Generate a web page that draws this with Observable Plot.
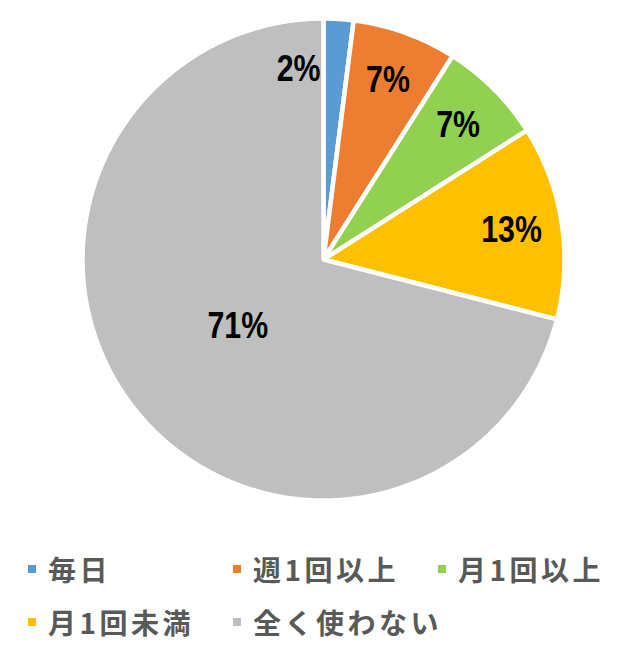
<!DOCTYPE html>
<html><head><meta charset="utf-8">
<script src="https://cdn.jsdelivr.net/npm/d3@7"></script>
<script src="https://cdn.jsdelivr.net/npm/@observablehq/plot@0.6"></script>
<style>
body{margin:0;background:#fff;overflow:hidden;}
#chart svg{display:block;}
.lg-swatches{box-sizing:content-box !important;width:620px !important;padding-left:28px !important;margin-top:12px !important;font-family:"Noto Sans CJK JP",sans-serif !important;font-size:28px !important;font-weight:bold !important;color:#595959 !important;letter-spacing:3.5px !important;}
.lg-swatch{width:205px !important;margin-right:0 !important;height:53px !important;white-space:nowrap !important;}
.lg-swatch > svg{margin-right:12px !important;}
</style></head><body><div id="chart"></div>
<script>
const categories = ["毎日","週1回以上","月1回以上","月1回未満","全く使わない"];
const values = [2,7,7,13,71];
const colors = ["#5B9BD5","#ED7D31","#92D050","#FFC000","#BFBFBF"];
const labels = values.map(v => v + "%");

const W = 639, H = 530, R = 241, cx = 323, cy = 259;
const total = d3.sum(values);
const pie = d3.pie().sort(null).value(d => d)(values);

const wedgePts = [];
pie.forEach((p, i) => {
  wedgePts.push({cat: categories[i], x: 0, y: 0});
  const n = Math.max(2, Math.ceil((p.endAngle - p.startAngle) / (Math.PI / 360)));
  for (let k = 0; k <= n; k++) {
    const a = p.startAngle + (p.endAngle - p.startAngle) * k / n;
    wedgePts.push({cat: categories[i], x: Math.sin(a), y: Math.cos(a)});
  }
});

const labelData = pie.map((p, i) => {
  const frac = values[i] / total;
  const mid = (p.startAngle + p.endAngle) / 2;
  if (frac < 0.05) return {label: labels[i], small: true, x: Math.sin(p.startAngle) * 0.79, y: Math.cos(p.startAngle) * 0.79};
  const r = frac > 0.5 ? 0.45 : 0.79;
  return {label: labels[i], small: false, x: Math.sin(mid) * r, y: Math.cos(mid) * r};
});

const labelFont = {fontSize: 37, fontWeight: "bold", fontFamily: "'Liberation Sans',Arial,sans-serif", fill: "#000"};

const plot = Plot.plot({
  width: W, height: H,
  marginLeft: 0, marginRight: 0, marginTop: 0, marginBottom: 0,
  x: {domain: [-cx / R, (W - cx) / R], axis: null},
  y: {domain: [-(H - cy) / R, cy / R], axis: null},
  color: {domain: categories, range: colors},
  marks: [
    Plot.line(wedgePts, {x: "x", y: "y", z: "cat", fill: "cat", stroke: "white", strokeWidth: 4.5, strokeLinejoin: "miter", curve: "linear-closed"}),
    Plot.text(labelData.filter(d => !d.small), {x: "x", y: "y", text: "label", ...labelFont}),
    Plot.text(labelData.filter(d => d.small), {x: "x", y: "y", text: "label", textAnchor: "end", dx: -3, ...labelFont})
  ]
});
// narrow the label glyphs (Arial Narrow look)
plot.querySelectorAll("text").forEach(t => {
  t.setAttribute("transform", (t.getAttribute("transform") || "") + " scale(0.82,1)");
});
document.getElementById("chart").appendChild(plot);

const legend = Plot.legend({color: {domain: categories, range: colors}, swatchSize: 8, className: "lg"});
document.getElementById("chart").appendChild(legend);
</script></body></html>
